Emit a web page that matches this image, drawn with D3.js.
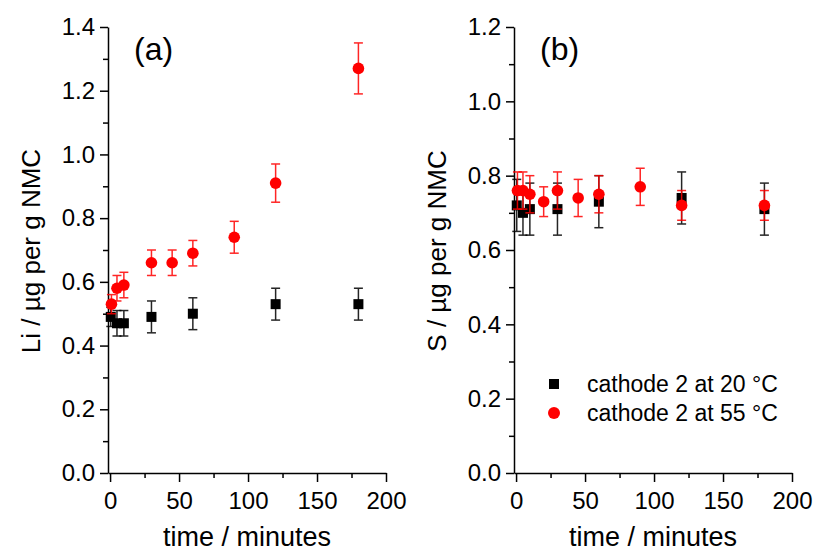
<!DOCTYPE html>
<html>
<head>
<meta charset="utf-8">
<script src="https://cdn.jsdelivr.net/npm/d3@7"></script>
<style>
  body { margin: 0; background: #fff; }
  text { font-family: "Liberation Sans", Arial, sans-serif; }
</style>
</head>
<body>
<div id="my_dataviz"></div>
<script>
// ---- data ----
// panel (a) Li
var timeLi20 = [0.5, 5, 10, 30, 60, 120, 180];
var li20 = [0.49, 0.47, 0.47, 0.49, 0.50, 0.53, 0.53];
var li20Err = [0.03, 0.04, 0.04, 0.05, 0.05, 0.05, 0.05];
var timeLi55 = [1, 5, 10, 30, 45, 60, 90, 120, 180];
var li55 = [0.53, 0.58, 0.59, 0.66, 0.66, 0.69, 0.74, 0.91, 1.27];
var li55Err = [0.03, 0.04, 0.04, 0.04, 0.04, 0.04, 0.05, 0.06, 0.08];

// panel (b) S
var timeS20 = [0.5, 5, 10, 30, 60, 120, 180];
var s20 = [0.72, 0.70, 0.71, 0.71, 0.73, 0.74, 0.71];
var s20Err = [0.07, 0.06, 0.07, 0.07, 0.07, 0.07, 0.07];
var timeS55 = [1, 5, 10, 20, 30, 45, 60, 90, 120, 180];
var s55 = [0.76, 0.76, 0.75, 0.73, 0.76, 0.74, 0.75, 0.77, 0.72, 0.72];
var s55Err = [0.05, 0.05, 0.05, 0.04, 0.05, 0.05, 0.05, 0.05, 0.04, 0.04];

var xTicks = [0, 50, 100, 150, 200];
var xMinor = [25, 75, 125, 175];
var legendLabels = ["cathode 2 at 20 \u00B0C", "cathode 2 at 55 \u00B0C"];

var svg = d3.select("#my_dataviz")
    .append("svg")
    .attr("width", 813)
    .attr("height", 553);

function zip(t, v, e) {
    return t.map(function(d, i) { return { t: d, v: v[i], e: e[i] }; });
}

function drawPanel(opt) {
    var x = d3.scaleLinear().domain([-1.5, 200]).range([opt.left, opt.left + 278]);
    var y = d3.scaleLinear().domain([0, opt.yMax]).range([473, 27]);

    var yMajor = d3.range(0, opt.yMax + 0.001, 0.2);
    var yMinor = d3.range(0.1, opt.yMax, 0.2);

    // minor ticks first (no labels)
    svg.append("g")
        .attr("transform", "translate(0,473)")
        .call(d3.axisBottom(x).tickValues(xMinor).tickSize(5).tickSizeOuter(0).tickFormat(""))
        .call(function(g) { g.select(".domain").remove(); });
    svg.append("g")
        .attr("transform", "translate(" + opt.left + ",0)")
        .call(d3.axisLeft(y).tickValues(yMinor).tickSize(5).tickSizeOuter(0).tickFormat(""))
        .call(function(g) { g.select(".domain").remove(); });

    // major axes
    var gx = svg.append("g")
        .attr("transform", "translate(0,473)")
        .call(d3.axisBottom(x).tickValues(xTicks).tickSize(9).tickSizeOuter(0).tickPadding(10));
    var gy = svg.append("g")
        .attr("transform", "translate(" + opt.left + ",0)")
        .call(d3.axisLeft(y).tickValues(yMajor).tickSize(8).tickSizeOuter(0).tickPadding(5)
            .tickFormat(d3.format(".1f")));

    [gx, gy].forEach(function(g) {
        g.selectAll("path, line").attr("stroke", "#000").attr("stroke-width", 1.5);
        g.selectAll("text").attr("font-size", 24).attr("fill", "#000")
            .attr("font-family", "Liberation Sans, Arial, sans-serif");
    });
    svg.selectAll("g line").attr("stroke-width", 1.5);

    // axis titles
    svg.append("text")
        .attr("x", opt.left + 139)
        .attr("y", 546)
        .attr("text-anchor", "middle")
        .attr("font-size", 27)
        .text("time / minutes");
    svg.append("text")
        .attr("transform", "translate(" + (opt.left - 68) + ",251) rotate(-90)")
        .attr("text-anchor", "middle")
        .attr("font-size", 26)
        .text(opt.yTitle);

    // panel tag
    svg.append("text")
        .attr("x", opt.left + 26)
        .attr("y", 60)
        .attr("font-size", 32)
        .text(opt.tag);

    // one series = error bars + markers
    function series(data, color, shape) {
        var g = svg.append("g");
        var bars = g.selectAll(null).data(data).enter().append("g")
            .attr("stroke", color).attr("stroke-width", 1.5).attr("opacity", 0.85);
        bars.append("line")
            .attr("x1", function(d) { return x(d.t); })
            .attr("x2", function(d) { return x(d.t); })
            .attr("y1", function(d) { return y(d.v - d.e); })
            .attr("y2", function(d) { return y(d.v + d.e); });
        [-1, 1].forEach(function(s) {
            bars.append("line")
                .attr("x1", function(d) { return x(d.t) - 4.5; })
                .attr("x2", function(d) { return x(d.t) + 4.5; })
                .attr("y1", function(d) { return y(d.v + s * d.e); })
                .attr("y2", function(d) { return y(d.v + s * d.e); });
        });
        if (shape === "square") {
            g.selectAll(null).data(data).enter().append("rect")
                .attr("x", function(d) { return x(d.t) - 5; })
                .attr("y", function(d) { return y(d.v) - 5; })
                .attr("width", 10).attr("height", 10)
                .attr("fill", color);
        } else {
            g.selectAll(null).data(data).enter().append("circle")
                .attr("cx", function(d) { return x(d.t); })
                .attr("cy", function(d) { return y(d.v); })
                .attr("r", 5.8)
                .attr("fill", color);
        }
    }
    series(opt.black, "#000", "square");
    series(opt.red, "#ff0000", "circle");
}

drawPanel({
    left: 108, yMax: 1.4, tag: "(a)",
    yTitle: "Li / \u00B5g per g NMC",
    black: zip(timeLi20, li20, li20Err),
    red: zip(timeLi55, li55, li55Err)
});
drawPanel({
    left: 514, yMax: 1.2, tag: "(b)",
    yTitle: "S / \u00B5g per g NMC",
    black: zip(timeS20, s20, s20Err),
    red: zip(timeS55, s55, s55Err)
});

// legend in panel (b)
var legend = svg.append("g");
legend.append("rect").attr("x", 549).attr("y", 379).attr("width", 10).attr("height", 10).attr("fill", "#000");
legend.append("circle").attr("cx", 554).attr("cy", 413).attr("r", 6).attr("fill", "#ff0000");
legend.selectAll("text.lg").data(legendLabels).enter().append("text")
    .attr("class", "lg")
    .attr("x", 587)
    .attr("y", function(d, i) { return 392 + i * 29; })
    .attr("font-size", 23)
    .text(function(d) { return d; });
</script>
</body>
</html>
